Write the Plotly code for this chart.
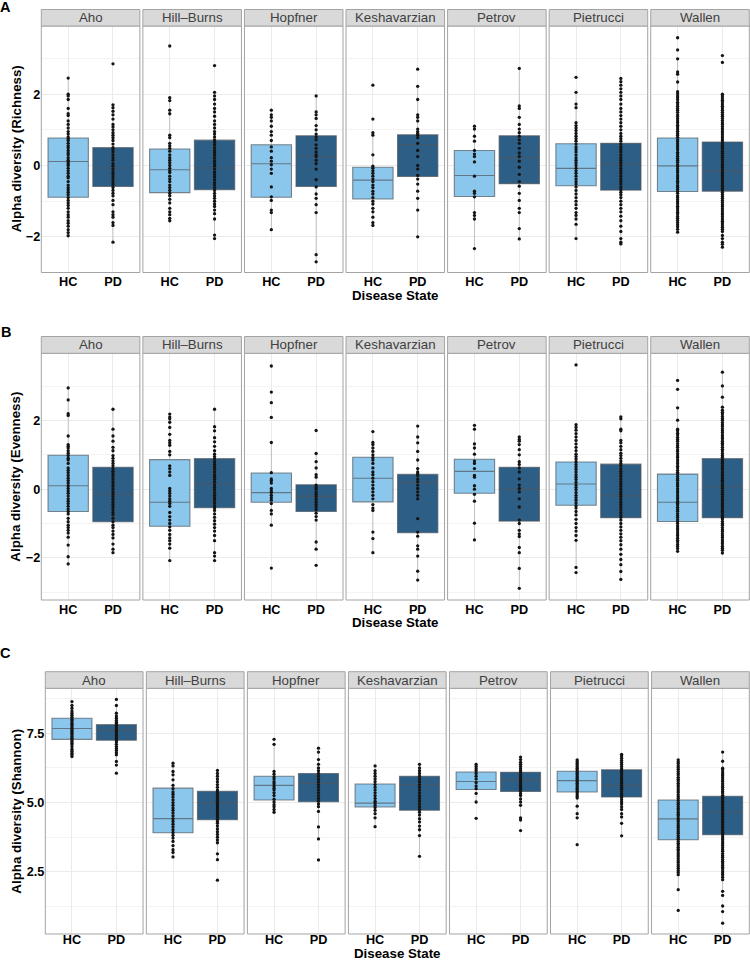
import plotly.graph_objects as go

STUDIES = ["Aho", "Hill–Burns", "Hopfner", "Keshavarzian", "Petrov", "Pietrucci", "Wallen"]
GROUPS = ["HC", "PD"]

# ---------------- Richness (panel A) ----------------
RICH_HC = {
    "Aho": [2.45, 2.0, 1.95, 1.85, 1.6, 1.45, 1.4, 1.25, 1.15, 1.05, 0.95, 0.88, 0.8, 0.75, 0.7, 0.62, 0.55, 0.5, 0.42, 0.35, 0.3, 0.22, 0.15, 0.1, 0.05, 0.0, -0.08, -0.15, -0.22, -0.3, -0.35, -0.45, -0.55, -0.62, -0.68, -0.75, -0.82, -0.9, -0.98, -1.05, -1.12, -1.2, -1.3, -1.38, -1.45, -1.55, -1.62, -1.7, -1.8, -1.88, -1.97],
    "Hill–Burns": [3.35, 1.9, 1.82, 1.55, 1.45, 0.85, 0.78, 0.62, 0.55, 0.48, 0.4, 0.3, 0.22, 0.15, 0.08, 0.0, -0.08, -0.15, -0.2, -0.3, -0.38, -0.45, -0.55, -0.62, -0.7, -0.78, -0.85, -0.95, -1.05, -1.2, -1.3, -1.38, -1.48, -1.55],
    "Hopfner": [1.55, 1.42, 1.35, 1.25, 1.1, 0.95, 0.85, 0.7, 0.52, 0.4, 0.22, 0.12, 0.02, -0.1, -0.22, -0.6, -0.88, -0.98, -1.25, -1.32, -1.8],
    "Keshavarzian": [2.25, 1.3, 0.92, 0.85, 0.3, -0.02, -0.08, -0.15, -0.22, -0.3, -0.38, -0.45, -0.55, -0.62, -0.72, -0.8, -0.9, -1.0, -1.08, -1.2, -1.3, -1.45, -1.6, -1.68],
    "Petrov": [1.1, 1.02, 0.82, 0.68, 0.42, 0.32, 0.25, 0.1, -0.3, -0.72, -0.78, -0.88, -1.32, -1.4, -1.5, -2.33],
    "Pietrucci": [2.47, 2.05, 1.72, 1.62, 1.2, 1.12, 1.05, 0.98, 0.9, 0.82, 0.75, 0.68, 0.6, 0.52, 0.45, 0.38, 0.3, 0.22, 0.15, 0.08, 0.0, -0.08, -0.15, -0.22, -0.3, -0.38, -0.45, -0.52, -0.6, -0.7, -0.8, -0.9, -1.0, -1.1, -1.2, -1.32, -1.4, -1.5, -1.65, -2.05],
    "Wallen": [3.58, 3.24, 2.99, 2.62, 2.56, 2.34, 2.07, 2.01, 1.95, 1.9, 1.84, 1.77, 1.72, 1.66, 1.6, 1.55, 1.49, 1.42, 1.37, 1.31, 1.25, 1.2, 1.13, 1.08, 1.02, 0.96, 0.9, 0.85, 0.79, 0.72, 0.67, 0.61, 0.55, 0.5, 0.44, 0.37, 0.32, 0.26, 0.2, 0.15, 0.09, 0.02, -0.03, -0.09, -0.15, -0.2, -0.27, -0.32, -0.38, -0.44, -0.49, -0.56, -0.61, -0.67, -0.73, -0.78, -0.85, -0.9, -0.96, -1.02, -1.07, -1.14, -1.19, -1.25, -1.31, -1.36, -1.43, -1.48, -1.54, -1.6, -1.66, -1.72, -1.79, -1.87],
}
RICH_PD = {
    "Aho": [2.85, 1.7, 1.62, 1.52, 1.42, 1.3, 1.15, 1.08, 1.0, 0.92, 0.85, 0.78, 0.7, 0.6, 0.5, 0.45, 0.38, 0.3, 0.22, 0.15, 0.05, -0.02, -0.1, -0.18, -0.25, -0.32, -0.4, -0.48, -0.55, -0.62, -0.7, -0.78, -0.85, -0.98, -1.1, -1.3, -1.38, -1.45, -1.6, -1.68, -2.15],
    "Hill–Burns": [2.8, 2.05, 1.95, 1.85, 1.72, 1.6, 1.5, 1.38, 1.25, 1.15, 1.05, 0.95, 0.88, 0.8, 0.72, 0.65, 0.58, 0.5, 0.42, 0.35, 0.28, 0.2, 0.12, 0.05, -0.02, -0.1, -0.18, -0.25, -0.32, -0.4, -0.48, -0.55, -0.62, -0.7, -0.78, -0.85, -0.92, -1.0, -1.08, -1.15, -1.25, -1.35, -1.5, -1.95, -2.05],
    "Hopfner": [1.95, 1.5, 1.42, 1.32, 1.12, 1.0, 0.88, 0.8, 0.72, 0.58, 0.48, 0.38, 0.3, 0.25, 0.15, 0.05, -0.1, -0.4, -0.6, -0.8, -0.92, -1.1, -1.32, -2.5, -2.7],
    "Keshavarzian": [2.7, 2.22, 1.85, 1.42, 1.35, 1.25, 1.02, 0.95, 0.9, 0.85, 0.78, 0.62, 0.42, 0.25, 0.0, -0.1, -0.28, -0.38, -0.52, -0.72, -0.92, -1.25, -2.0],
    "Petrov": [2.72, 1.67, 1.6, 1.35, 1.15, 1.02, 0.92, 0.82, 0.72, 0.62, 0.48, 0.35, 0.25, 0.12, -0.05, -0.25, -0.45, -0.58, -0.78, -0.98, -1.2, -1.32, -1.77, -2.06],
    "Pietrucci": [2.44, 2.35, 2.25, 2.15, 2.05, 1.95, 1.85, 1.72, 1.6, 1.5, 1.4, 1.3, 1.2, 1.1, 1.0, 0.9, 0.82, 0.75, 0.68, 0.6, 0.52, 0.45, 0.38, 0.3, 0.22, 0.15, 0.08, 0.0, -0.08, -0.15, -0.22, -0.3, -0.38, -0.45, -0.52, -0.6, -0.68, -0.75, -0.82, -0.9, -1.0, -1.1, -1.2, -1.3, -1.42, -1.55, -1.7, -1.85, -2.05, -2.15, -2.2],
    "Wallen": [3.08, 2.89, 2.0, 1.95, 1.89, 1.83, 1.78, 1.72, 1.66, 1.61, 1.55, 1.49, 1.43, 1.38, 1.32, 1.26, 1.2, 1.15, 1.09, 1.03, 0.97, 0.92, 0.86, 0.8, 0.74, 0.69, 0.63, 0.57, 0.51, 0.46, 0.4, 0.34, 0.28, 0.23, 0.17, 0.11, 0.05, 0.0, -0.06, -0.12, -0.18, -0.23, -0.29, -0.35, -0.41, -0.46, -0.52, -0.58, -0.64, -0.69, -0.75, -0.81, -0.87, -0.92, -0.98, -1.04, -1.1, -1.15, -1.21, -1.27, -1.33, -1.38, -1.44, -1.5, -1.56, -1.61, -1.67, -1.73, -1.79, -1.85, -1.96, -2.05, -2.15, -2.21, -2.29],
}
# (q1, median, q3)
RICH_HC_BOX = {"Aho": (-0.89, 0.11, 0.77), "Hill–Burns": (-0.76, -0.12, 0.46), "Hopfner": (-0.89, 0.05, 0.58),
               "Keshavarzian": (-0.94, -0.41, -0.05), "Petrov": (-0.87, -0.28, 0.42), "Pietrucci": (-0.57, -0.08, 0.61),
               "Wallen": (-0.73, -0.01, 0.77)}
RICH_PD_BOX = {"Aho": (-0.59, -0.07, 0.50), "Hill–Burns": (-0.68, -0.07, 0.71), "Hopfner": (-0.59, 0.25, 0.83),
               "Keshavarzian": (-0.31, 0.58, 0.86), "Petrov": (-0.51, 0.22, 0.83), "Pietrucci": (-0.69, 0.04, 0.62),
               "Wallen": (-0.72, -0.15, 0.66)}

# ---------------- Evenness (panel B) ----------------
EVEN_HC = {
    "Aho": [2.95, 2.6, 2.2, 2.15, 1.55, 1.3, 1.25, 1.2, 1.12, 1.05, 0.98, 0.9, 0.85, 0.75, 0.62, 0.55, 0.48, 0.4, 0.32, 0.25, 0.18, 0.1, 0.02, -0.05, -0.12, -0.2, -0.28, -0.35, -0.42, -0.5, -0.58, -0.65, -0.72, -0.85, -0.95, -1.05, -1.12, -1.2, -1.28, -1.4, -1.63, -1.97, -2.18],
    "Hill–Burns": [2.19, 2.1, 2.05, 1.95, 1.8, 1.6, 1.42, 1.35, 1.28, 1.1, 1.0, 0.68, 0.6, 0.5, 0.4, 0.02, -0.05, -0.12, -0.2, -0.28, -0.35, -0.42, -0.5, -0.68, -0.8, -0.9, -1.0, -1.1, -1.2, -1.32, -1.42, -1.5, -1.6, -1.72, -2.08],
    "Hopfner": [3.59, 2.83, 2.52, 2.09, 1.36, 0.48, 0.3, 0.25, 0.18, 0.02, -0.05, -0.1, -0.18, -0.25, -0.32, -0.42, -0.62, -0.72, -1.05, -2.3],
    "Keshavarzian": [1.68, 1.36, 1.3, 1.2, 1.1, 1.0, 0.92, 0.85, 0.75, 0.62, 0.5, 0.42, 0.32, 0.22, 0.12, 0.02, -0.08, -0.18, -0.28, -0.45, -0.55, -0.62, -1.25, -1.44, -1.85],
    "Petrov": [1.86, 1.75, 1.32, 1.2, 1.02, 0.82, 0.75, 0.6, 0.4, 0.35, 0.1, 0.0, -0.15, -0.35, -0.99, -1.48],
    "Pietrucci": [3.62, 1.88, 1.8, 1.72, 1.62, 1.52, 1.42, 1.32, 1.22, 1.12, 1.02, 0.95, 0.88, 0.8, 0.72, 0.65, 0.58, 0.5, 0.42, 0.35, 0.28, 0.2, 0.12, 0.05, -0.02, -0.1, -0.18, -0.25, -0.32, -0.4, -0.48, -0.55, -0.65, -0.75, -0.88, -1.0, -1.12, -1.22, -1.35, -1.49, -2.28, -2.43],
    "Wallen": [3.17, 2.91, 2.37, 2.01, 1.75, 1.7, 1.63, 1.58, 1.51, 1.45, 1.4, 1.33, 1.27, 1.22, 1.15, 1.1, 1.03, 0.97, 0.92, 0.85, 0.79, 0.74, 0.67, 0.62, 0.55, 0.49, 0.44, 0.37, 0.31, 0.26, 0.19, 0.13, 0.08, 0.01, -0.05, -0.1, -0.17, -0.23, -0.28, -0.35, -0.41, -0.46, -0.53, -0.59, -0.64, -0.71, -0.77, -0.82, -0.89, -0.95, -1.0, -1.07, -1.13, -1.18, -1.25, -1.31, -1.36, -1.43, -1.49, -1.54, -1.61, -1.67, -1.73, -1.81],
}
EVEN_PD = {
    "Aho": [2.33, 1.75, 1.55, 1.4, 1.22, 1.12, 0.98, 0.9, 0.82, 0.75, 0.68, 0.6, 0.52, 0.45, 0.38, 0.3, 0.22, 0.15, 0.08, 0.0, -0.08, -0.15, -0.22, -0.3, -0.38, -0.45, -0.52, -0.6, -0.68, -0.75, -0.85, -0.95, -1.05, -1.12, -1.22, -1.32, -1.42, -1.6, -1.75, -1.85],
    "Hill–Burns": [2.33, 1.82, 1.7, 1.5, 1.38, 1.25, 1.12, 1.02, 0.95, 0.88, 0.8, 0.72, 0.65, 0.58, 0.5, 0.42, 0.35, 0.28, 0.2, 0.12, 0.05, -0.02, -0.1, -0.18, -0.25, -0.32, -0.4, -0.48, -0.55, -0.62, -0.72, -0.82, -0.92, -1.02, -1.12, -1.22, -1.35, -1.5, -1.85, -1.95, -2.08],
    "Hopfner": [1.71, 1.04, 0.8, 0.62, 0.42, 0.35, 0.12, 0.05, 0.0, -0.08, -0.15, -0.22, -0.3, -0.38, -0.45, -0.52, -0.6, -0.7, -0.8, -0.9, -1.54, -1.75, -2.22],
    "Keshavarzian": [1.84, 1.52, 1.35, 1.1, 0.85, 0.6, 0.5, 0.45, 0.4, 0.3, 0.22, 0.12, 0.02, -0.08, -0.18, -0.28, -0.86, -1.25, -1.37, -1.65, -1.75, -1.95, -2.39, -2.65],
    "Petrov": [1.52, 1.45, 1.4, 1.3, 1.15, 1.0, 0.8, 0.72, 0.62, 0.5, 0.3, 0.12, 0.02, -0.08, -0.28, -0.52, -0.9, -1.0, -1.2, -1.3, -1.38, -1.7, -1.85, -2.31, -2.89],
    "Pietrucci": [2.11, 2.05, 1.75, 1.7, 1.42, 1.35, 1.25, 1.15, 1.05, 0.98, 0.9, 0.82, 0.75, 0.68, 0.6, 0.52, 0.45, 0.38, 0.3, 0.22, 0.15, 0.08, 0.0, -0.08, -0.15, -0.22, -0.3, -0.38, -0.45, -0.52, -0.6, -0.68, -0.75, -0.82, -0.9, -1.0, -1.1, -1.2, -1.3, -1.4, -1.5, -1.62, -1.75, -1.9, -2.05, -2.2, -2.4, -2.63],
    "Wallen": [3.41, 3.01, 2.68, 2.39, 2.3, 2.24, 2.19, 2.12, 2.06, 2.01, 1.94, 1.88, 1.83, 1.76, 1.7, 1.65, 1.58, 1.52, 1.47, 1.4, 1.34, 1.29, 1.22, 1.16, 1.11, 1.04, 0.98, 0.93, 0.86, 0.8, 0.75, 0.68, 0.62, 0.57, 0.5, 0.44, 0.39, 0.32, 0.26, 0.21, 0.14, 0.08, 0.03, -0.04, -0.1, -0.15, -0.22, -0.28, -0.33, -0.4, -0.46, -0.51, -0.58, -0.64, -0.69, -0.76, -0.82, -0.87, -0.94, -1.0, -1.05, -1.12, -1.18, -1.23, -1.3, -1.36, -1.41, -1.48, -1.54, -1.59, -1.66, -1.72, -1.78, -1.86],
}
EVEN_HC_BOX = {"Aho": (-0.65, 0.10, 0.99), "Hill–Burns": (-1.08, -0.38, 0.86), "Hopfner": (-0.38, -0.10, 0.47),
               "Keshavarzian": (-0.37, 0.32, 0.93), "Petrov": (-0.12, 0.52, 0.87), "Pietrucci": (-0.47, 0.15, 0.79),
               "Wallen": (-0.94, -0.38, 0.44)}
EVEN_PD_BOX = {"Aho": (-0.95, -0.15, 0.64), "Hill–Burns": (-0.54, 0.15, 0.89), "Hopfner": (-0.65, -0.21, 0.13),
               "Keshavarzian": (-1.27, 0.19, 0.43), "Petrov": (-0.93, 0.0, 0.64), "Pietrucci": (-0.83, -0.19, 0.73),
               "Wallen": (-0.83, 0.08, 0.89)}

# ---------------- Shannon (panel C) ----------------
SHAN_HC = {
    "Aho": [8.64, 8.5, 8.4, 8.3, 8.22, 8.15, 8.08, 8.0, 7.95, 7.88, 7.82, 7.76, 7.7, 7.65, 7.6, 7.55, 7.5, 7.44, 7.38, 7.32, 7.26, 7.2, 7.14, 7.08, 7.0, 6.92, 6.85, 6.78, 6.72, 6.66],
    "Hill–Burns": [6.42, 6.32, 6.12, 6.0, 5.82, 5.62, 5.5, 5.38, 5.3, 5.2, 5.1, 5.0, 4.9, 4.8, 4.72, 4.62, 4.52, 4.42, 4.32, 4.22, 4.12, 4.02, 3.92, 3.82, 3.72, 3.6, 3.45, 3.3, 3.2, 3.04],
    "Hopfner": [7.28, 7.1, 6.12, 6.02, 5.92, 5.85, 5.75, 5.68, 5.6, 5.52, 5.45, 5.35, 5.25, 5.12, 5.02, 4.92, 4.85, 4.75, 4.65],
    "Keshavarzian": [6.32, 6.15, 6.05, 5.95, 5.85, 5.75, 5.65, 5.55, 5.45, 5.35, 5.25, 5.15, 5.05, 4.98, 4.9, 4.82, 4.72, 4.6, 4.45, 4.13],
    "Petrov": [6.38, 6.3, 6.22, 6.15, 6.05, 5.95, 5.85, 5.72, 5.6, 5.5, 5.33, 5.02, 4.43],
    "Pietrucci": [6.54, 6.48, 6.42, 6.36, 6.3, 6.24, 6.18, 6.12, 6.06, 6.0, 5.94, 5.88, 5.82, 5.76, 5.7, 5.64, 5.58, 5.52, 5.46, 5.4, 5.34, 5.28, 5.22, 5.16, 4.87, 4.6, 4.45, 3.48],
    "Wallen": [6.54, 6.47, 6.41, 6.33, 6.26, 6.2, 6.12, 6.05, 5.99, 5.91, 5.84, 5.78, 5.7, 5.63, 5.57, 5.49, 5.42, 5.36, 5.28, 5.21, 5.15, 5.07, 5.0, 4.94, 4.86, 4.79, 4.73, 4.65, 4.58, 4.52, 4.44, 4.37, 4.31, 4.23, 4.16, 4.1, 4.02, 3.95, 3.89, 3.81, 3.74, 3.68, 3.6, 3.53, 3.47, 3.39, 3.32, 3.26, 3.18, 3.11, 3.05, 2.97, 2.9, 2.84, 2.76, 2.69, 2.63, 2.55, 2.48, 2.4, 1.86, 1.11],
}
SHAN_PD = {
    "Aho": [8.72, 8.5, 8.22, 8.12, 8.04, 7.96, 7.9, 7.84, 7.78, 7.72, 7.66, 7.6, 7.54, 7.48, 7.42, 7.36, 7.3, 7.24, 7.18, 7.1, 7.02, 6.95, 6.88, 6.8, 6.72, 6.48, 6.35, 6.06],
    "Hill–Burns": [6.16, 6.05, 5.95, 5.85, 5.75, 5.65, 5.55, 5.45, 5.38, 5.3, 5.22, 5.15, 5.08, 5.0, 4.92, 4.85, 4.78, 4.7, 4.62, 4.55, 4.48, 4.4, 4.32, 4.25, 4.15, 4.05, 3.95, 3.85, 3.75, 3.65, 3.55, 3.15, 2.94, 2.2],
    "Hopfner": [6.96, 6.82, 6.55, 6.38, 6.25, 6.15, 6.05, 5.95, 5.85, 5.75, 5.65, 5.55, 5.45, 5.35, 5.25, 5.15, 5.05, 4.95, 4.85, 4.68, 4.12, 3.69, 2.93],
    "Keshavarzian": [6.38, 6.25, 6.15, 6.05, 5.95, 5.85, 5.75, 5.65, 5.55, 5.45, 5.35, 5.25, 5.15, 5.05, 4.95, 4.85, 4.75, 4.65, 4.55, 4.42, 4.3, 4.15, 4.02, 3.81, 3.06],
    "Petrov": [6.64, 6.55, 6.45, 6.38, 6.3, 6.22, 6.15, 6.08, 6.0, 5.92, 5.85, 5.78, 5.7, 5.62, 5.55, 5.48, 5.4, 5.32, 5.25, 5.13, 5.02, 4.9, 4.45, 4.37, 3.99],
    "Pietrucci": [6.74, 6.68, 6.6, 6.52, 6.45, 6.38, 6.3, 6.22, 6.15, 6.08, 6.0, 5.92, 5.85, 5.78, 5.7, 5.62, 5.55, 5.48, 5.4, 5.32, 5.25, 5.18, 5.1, 5.02, 4.95, 4.85, 4.75, 4.6, 4.48, 4.25, 3.8],
    "Wallen": [6.82, 6.49, 6.24, 6.18, 6.1, 6.03, 5.97, 5.89, 5.82, 5.76, 5.68, 5.61, 5.55, 5.47, 5.4, 5.34, 5.26, 5.19, 5.13, 5.05, 4.98, 4.92, 4.84, 4.77, 4.71, 4.63, 4.56, 4.5, 4.42, 4.35, 4.29, 4.21, 4.14, 4.08, 4.0, 3.93, 3.87, 3.79, 3.72, 3.66, 3.58, 3.51, 3.45, 3.37, 3.3, 3.24, 3.16, 3.09, 3.03, 2.95, 2.88, 2.82, 2.74, 2.67, 2.61, 2.53, 2.46, 2.4, 2.31, 2.22, 1.8, 1.65, 1.27, 1.07, 0.65],
}
SHAN_HC_BOX = {"Aho": (7.28, 7.67, 8.04), "Hill–Burns": (3.91, 4.42, 5.52), "Hopfner": (5.09, 5.62, 5.95),
               "Keshavarzian": (4.84, 4.98, 5.67), "Petrov": (5.47, 5.76, 6.10), "Pietrucci": (5.38, 5.79, 6.13),
               "Wallen": (3.66, 4.41, 5.09)}
SHAN_PD_BOX = {"Aho": (7.25, 7.62, 7.81), "Hill–Burns": (4.38, 4.98, 5.41), "Hopfner": (5.03, 5.69, 6.05),
               "Keshavarzian": (4.72, 5.64, 5.95), "Petrov": (5.40, 5.80, 6.09), "Pietrucci": (5.20, 5.62, 6.18),
               "Wallen": (3.84, 4.65, 5.23)}

Y_TITLES = ["Alpha diversity (Richness)", "Alpha diversity (Evenness)", "Alpha diversity (Shannon)"]
PANEL_LETTERS = ["A", "B", "C"]
X_TITLE = "Disease State"

# ---------------- layout geometry (pixels) ----------------
W, H = 750, 961
ROWS = [
    dict(pts=(RICH_HC, RICH_PD), box=(RICH_HC_BOX, RICH_PD_BOX), strip_top=9.5, top=26.0, bottom=272.5,
         left=41.3, right=749.3, gap=3.0, yrange=[-3.0, 3.91], dtick=2, minor=1, fmt="", letter_y=7,
         title_x=16.0, xtitle_dy=22.5, standoff=0),
    dict(pts=(EVEN_HC, EVEN_PD), box=(EVEN_HC_BOX, EVEN_PD_BOX), strip_top=336.5, top=353.3, bottom=600.0,
         left=41.3, right=749.3, gap=3.0, yrange=[-3.23, 3.96], dtick=2, minor=1, fmt="", letter_y=331.7,
         title_x=16.0, xtitle_dy=22.5, standoff=0),
    dict(pts=(SHAN_HC, SHAN_PD), box=(SHAN_HC_BOX, SHAN_PD_BOX), strip_top=671.7, top=688.3, bottom=934.0,
         left=45.3, right=749.3, gap=3.3, yrange=[0.26, 9.12], dtick=2.5, minor=1.25, fmt=".1f", letter_y=653,
         title_x=16.5, xtitle_dy=19.0, standoff=-4),
]
FILL = {"HC": "#8BC7EC", "PD": "#2D5E85"}
BOX_LINE = "rgba(80,86,92,0.7)"
WHISKER = "rgba(120,120,120,0.55)"
FONT = "Liberation Sans, Arial, Helvetica, sans-serif"
BORDER = "#A3A3A3"

def px(x):
    return x / W

def py(y):
    return 1 - y / H

fig = go.Figure()
shapes = []
annotations = []
layout_axes = {}

for r, row in enumerate(ROWS):
    nP = len(STUDIES)
    pw = (row["right"] - row["left"] - (nP - 1) * row["gap"]) / nP
    for i, s in enumerate(STUDIES):
        k = r * nP + i + 1
        xn = "x" if k == 1 else f"x{k}"
        yn = "y" if k == 1 else f"y{k}"
        x0 = row["left"] + i * (pw + row["gap"])
        x1 = x0 + pw
        # whiskers (thin, light) drawn first
        for g, pts_d, box_d in zip(GROUPS, row["pts"], row["box"]):
            pts = pts_d[s]
            q1, med, q3 = box_d[s]
            iqr = q3 - q1
            lf = min(min(p for p in pts if p >= q1 - 1.5 * iqr), q1)
            uf = max(max(p for p in pts if p <= q3 + 1.5 * iqr), q3)
            fig.add_trace(go.Scatter(
                x=[g, g, None, g, g], y=[q3, uf, None, q1, lf], mode="lines",
                line=dict(color=WHISKER, width=0.7), xaxis=xn, yaxis=yn,
                showlegend=False, hoverinfo="skip"))
        for g, box_d in zip(GROUPS, row["box"]):
            q1, med, q3 = box_d[s]
            fig.add_trace(go.Box(
                x=[g], q1=[q1], median=[med], q3=[q3], lowerfence=[q1], upperfence=[q3],
                width=0.9, fillcolor=FILL[g], line=dict(color=BOX_LINE, width=1.1),
                whiskerwidth=0, boxpoints=False, xaxis=xn, yaxis=yn,
                showlegend=False, hoverinfo="skip"))
        for g, pts_d in zip(GROUPS, row["pts"]):
            pts = pts_d[s]
            fig.add_trace(go.Scatter(
                x=[g] * len(pts), y=pts, mode="markers",
                marker=dict(size=3.3, color="#141414", line=dict(width=0)),
                xaxis=xn, yaxis=yn, showlegend=False, hoverinfo="skip"))

        xkey = "xaxis" if k == 1 else f"xaxis{k}"
        ykey = "yaxis" if k == 1 else f"yaxis{k}"
        layout_axes[xkey] = dict(
            domain=[px(x0), px(x1)], anchor=yn, type="category",
            categoryorder="array", categoryarray=GROUPS, range=[-0.6, 1.6],
            showgrid=True, gridcolor="#EBEBEB", gridwidth=1, zeroline=False, showline=False,
            ticks="", ticklabelstandoff=row["standoff"],
            tickfont=dict(family=FONT, size=12.7, color="#000000", weight="bold"),
            fixedrange=True)
        layout_axes[ykey] = dict(
            domain=[py(row["bottom"]), py(row["top"])], anchor=xn,
            range=row["yrange"], tick0=0, dtick=row["dtick"], tickformat=row["fmt"],
            showgrid=True, gridcolor="#EBEBEB", gridwidth=1, zeroline=False, showline=False,
            minor=dict(dtick=row["minor"], tick0=0, showgrid=True, gridcolor="#F3F3F3", gridwidth=0.6),
            showticklabels=(i == 0), ticks="",
            tickfont=dict(family=FONT, size=12.7, color="#000000", weight="bold"),
            fixedrange=True)
        shapes.append(dict(type="rect", xref="paper", yref="paper",
                           x0=px(x0), x1=px(x1), y0=py(row["bottom"]), y1=py(row["top"]),
                           line=dict(color=BORDER, width=1), fillcolor="rgba(0,0,0,0)", layer="above"))
        shapes.append(dict(type="rect", xref="paper", yref="paper",
                           x0=px(x0), x1=px(x1), y0=py(row["top"]), y1=py(row["strip_top"]),
                           line=dict(color=BORDER, width=1), fillcolor="#D9D9D9", layer="above"))
        annotations.append(dict(text=s, xref="paper", yref="paper",
                                x=px((x0 + x1) / 2), y=py((row["strip_top"] + row["top"]) / 2),
                                xanchor="center", yanchor="middle", showarrow=False,
                                font=dict(family=FONT, size=13.3, color="#404040")))
    annotations.append(dict(text=f"<b>{Y_TITLES[r]}</b>", xref="paper", yref="paper",
                            x=px(row["title_x"]), y=py((row["top"] + row["bottom"]) / 2), textangle=-90,
                            xanchor="center", yanchor="middle", showarrow=False,
                            font=dict(family=FONT, size=13.3, color="#000000")))
    annotations.append(dict(text=f"<b>{X_TITLE}</b>", xref="paper", yref="paper",
                            x=px((row["left"] + row["right"]) / 2), y=py(row["bottom"] + row["xtitle_dy"]),
                            xanchor="center", yanchor="middle", showarrow=False, borderpad=0,
                            font=dict(family=FONT, size=13.3, color="#000000")))
    annotations.append(dict(text=f"<b>{PANEL_LETTERS[r]}</b>", xref="paper", yref="paper",
                            x=px(5.5), y=py(row["letter_y"]),
                            xanchor="center", yanchor="middle", showarrow=False,
                            font=dict(family=FONT, size=14.5, color="#000000")))

fig.update_layout(
    width=W, height=H, margin=dict(l=0, r=0, t=0, b=0),
    paper_bgcolor="white", plot_bgcolor="white",
    boxmode="overlay", showlegend=False,
    shapes=shapes, annotations=annotations,
    font=dict(family=FONT),
    **layout_axes)

fig.write_html("out.html", config={"displayModeBar": False},
               post_script="document.body.style.margin='0';document.body.style.overflow='hidden';")
